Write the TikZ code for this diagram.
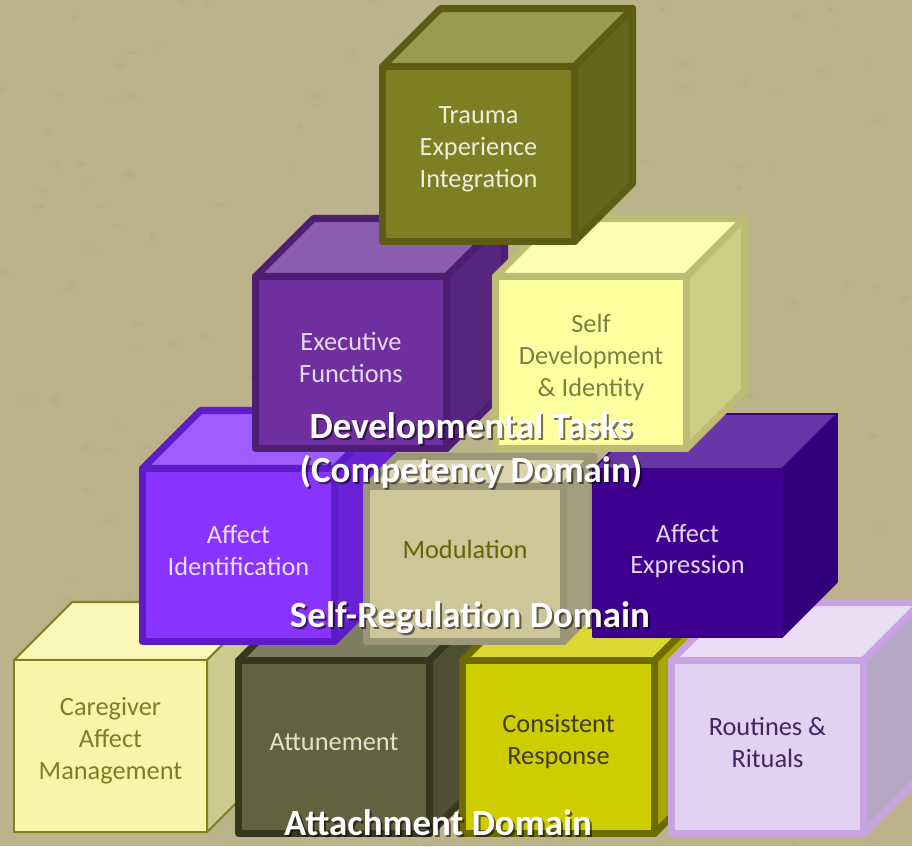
\documentclass[tikz,border=0pt]{standalone}
\usepackage{fontspec}
\setmainfont{Carlito}
\usetikzlibrary{calc}
\tikzstyle{cubetext} = [align=center, inner sep=0pt, font=\fontsize{15}{18.2}\selectfont]
\tikzstyle{domtext} = [align=center, inner sep=0pt, font=\fontsize{21}{25}\selectfont\bfseries]

\definecolor{paper}{HTML}{BCB38B}
\definecolor{paperspot}{HTML}{ADA47A}
% F front, T top, S side, B border, X text
\definecolor{traumaF}{HTML}{807E22}\definecolor{traumaT}{HTML}{9C9A4C}\definecolor{traumaS}{HTML}{676519}\definecolor{traumaB}{HTML}{5E5C12}\definecolor{traumaX}{HTML}{EDEDDC}
\definecolor{execF}{HTML}{6F2F9E}\definecolor{execT}{HTML}{8B5DB1}\definecolor{execS}{HTML}{57267F}\definecolor{execB}{HTML}{4D1E73}\definecolor{execX}{HTML}{E4DAF0}
\definecolor{selfdevF}{HTML}{FFFF9F}\definecolor{selfdevT}{HTML}{FFFFB4}\definecolor{selfdevS}{HTML}{CFCE85}\definecolor{selfdevB}{HTML}{BDBC72}\definecolor{selfdevX}{HTML}{7E7E45}
\definecolor{affidF}{HTML}{8833FF}\definecolor{affidT}{HTML}{A05CFF}\definecolor{affidS}{HTML}{6A22D8}\definecolor{affidB}{HTML}{5E1CC6}\definecolor{affidX}{HTML}{E8DEFA}
\definecolor{modulF}{HTML}{CEC699}\definecolor{modulT}{HTML}{DAD3AD}\definecolor{modulS}{HTML}{A59E7E}\definecolor{modulB}{HTML}{9C9679}\definecolor{modulX}{HTML}{686300}
\definecolor{affexpF}{HTML}{3F0092}\definecolor{affexpT}{HTML}{6636A6}\definecolor{affexpS}{HTML}{31007B}\definecolor{affexpB}{HTML}{3A0088}\definecolor{affexpX}{HTML}{E2D8EE}
\definecolor{careF}{HTML}{F8F5A8}\definecolor{careT}{HTML}{FAF7B8}\definecolor{careS}{HTML}{CDCA8E}\definecolor{careB}{HTML}{818120}\definecolor{careX}{HTML}{7F7E25}
\definecolor{attuneF}{HTML}{62623F}\definecolor{attuneT}{HTML}{7E7E60}\definecolor{attuneS}{HTML}{4F4F33}\definecolor{attuneB}{HTML}{37371F}\definecolor{attuneX}{HTML}{E2E2D4}
\definecolor{consistF}{HTML}{CFCC00}\definecolor{consistT}{HTML}{DAD632}\definecolor{consistS}{HTML}{A9A500}\definecolor{consistB}{HTML}{6C6B00}\definecolor{consistX}{HTML}{3E3D10}
\definecolor{routineF}{HTML}{E2D1F1}\definecolor{routineT}{HTML}{EADDF4}\definecolor{routineS}{HTML}{B5A8C4}\definecolor{routineB}{HTML}{C8A3E2}\definecolor{routineX}{HTML}{45245F}

% #1 name, #2 x, #3 y, #4 w, #5 h, #6 depth, #7 border, #8 text, #9 text lift
\newcommand{\blockcube}[9]{%
 \filldraw[fill=#1T, draw=#1B, line width=#7, line join=round] (#2,#3) -- ++(#6,-#6) -- ++(#4,0) -- ++(-#6,#6) -- cycle;
 \filldraw[fill=#1S, draw=#1B, line width=#7, line join=round] (#2+#4,#3) -- ++(#6,-#6) -- ++(0,#5) -- ++(-#6,#6) -- cycle;
 \filldraw[fill=#1F, draw=#1B, line width=#7, line join=round] (#2,#3) rectangle ++(#4,#5);
 \node[cubetext, text=#1X] (#1) at (#2+#4/2, #3+#5/2-#9) {#8};
}

\begin{document}
\begin{tikzpicture}[x=0.02cm, y=-0.02cm]
 		\useasboundingbox (0,0) rectangle (912,846);
 		\clip (0,0) rectangle (912,846);
 		\fill[paper] (0,0) rectangle (912,846);
 		\pgfmathsetseed{846}
 		\foreach \i in {1,2,...,220}
 		{
 			\pgfmathrandominteger{\a}{0}{912}
 			\pgfmathrandominteger{\b}{0}{846}
 			\pgfmathrandominteger{\c}{2}{6}
 			\pgfmathrandominteger{\d}{1}{4}
 			\fill[paperspot, opacity=0.22] (\a,\b) ellipse ({\c*0.02cm} and {\d*0.02cm});
 		}
 		% attachment row
 		\blockcube{care}{14}{660}{193}{172}{58}{1.2pt}{Caregiver\\Affect\\Management}{5}
 		\blockcube{attune}{238.5}{660.5}{191}{173}{58}{4pt}{Attunement}{5}
 		\blockcube{consist}{462.5}{660.5}{192}{173}{58}{4pt}{Consistent\\Response}{5}
 		\blockcube{routine}{671.5}{660.5}{192}{173}{58}{4pt}{Routines \&\\Rituals}{5}
 		% self-regulation row
 		\blockcube{affid}{142.5}{468.5}{192}{173}{58}{4pt}{Affect\\Identification}{5}
 		\blockcube{modul}{366.5}{486.5}{197}{155}{30}{4pt}{Modulation}{15}
 		\blockcube{affexp}{593}{469}{189}{168}{55}{1pt}{Affect\\Expression}{2}
 		% competency row
 		\blockcube{exec}{255.5}{276.5}{191}{172}{58}{4pt}{Executive\\Functions}{5}
 		\blockcube{selfdev}{495.5}{276.5}{191}{172}{58}{4pt}{Self\\Development\\\& Identity}{5}
 		\blockcube{trauma}{382.5}{66.5}{192}{175}{58}{4pt}{Trauma\\Experience\\Integration}{5}
 		% domain labels
 		\node[domtext, text=black, opacity=0.55] (devshadow) at (473,452) {Developmental Tasks\\(Competency Domain)};
 		\node[domtext, text=white] (devlabel) at (471,450) {Developmental Tasks\\(Competency Domain)};
 		\node[domtext, text=black, opacity=0.55] (selfshadow) at (472,620) {Self-Regulation Domain};
 		\node[domtext, text=white] (selflabel) at (470,618) {Self-Regulation Domain};
 		\node[domtext, text=black, opacity=0.55] (attshadow) at (440,825) {Attachment Domain};
 		\node[domtext, text=white] (attlabel) at (438,823) {Attachment Domain};
\end{tikzpicture}
\end{document}
